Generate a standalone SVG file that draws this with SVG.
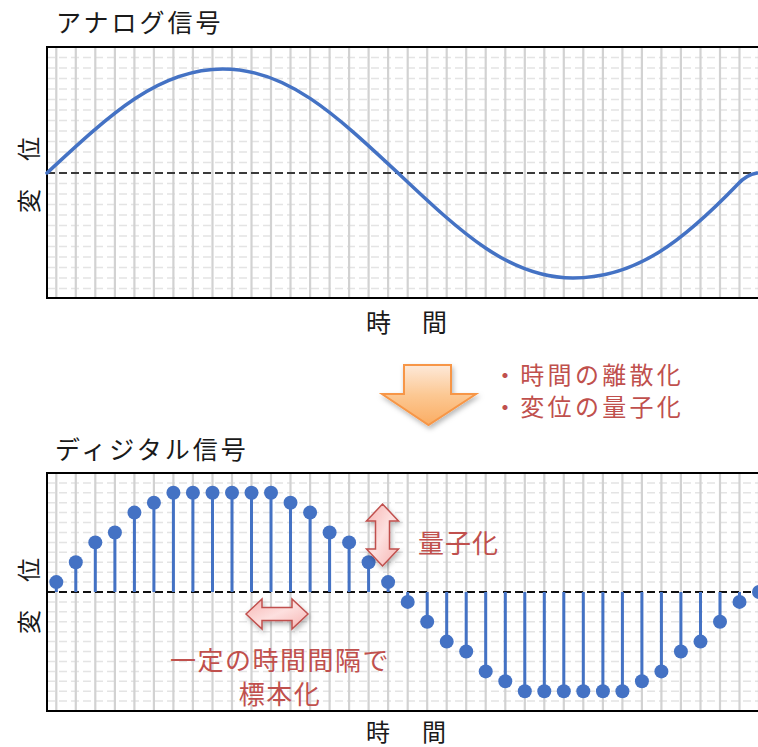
<svg xmlns="http://www.w3.org/2000/svg" width="758" height="747" viewBox="0 0 758 747">
<style>
.jp{font-family:"Noto Sans CJK JP","Noto Sans CJK SC",sans-serif;}
.blk{fill:#1a1a1a;}
.red{fill:#c0504d;}
.vg{stroke:#d2d2d2;stroke-width:2.2;fill:none;}
.hg{stroke:#e4e4e4;stroke-width:1.5;stroke-dasharray:8 4;fill:none;}
.frame{stroke:#000;stroke-width:2;fill:none;}
.zero{stroke:#3a3a3a;stroke-width:2.2;stroke-dasharray:8 4;fill:none;}
.stem{stroke:#4472c4;stroke-width:3;fill:none;}
.dot{fill:#4472c4;}
.rarrow{fill:url(#pinkGrad);stroke:#c0504d;stroke-width:1.5;stroke-linejoin:miter;}
</style>
<defs>
<linearGradient id="orangeGrad" x1="0" y1="0" x2="0" y2="1">
<stop offset="0" stop-color="#fde9d9"/>
<stop offset="0.5" stop-color="#fcc893"/>
<stop offset="1" stop-color="#fbad63"/>
</linearGradient>
<linearGradient id="pinkGrad" x1="0" y1="0" x2="1" y2="1">
<stop offset="0" stop-color="#f6b3b1"/>
<stop offset="0.5" stop-color="#fde0df"/>
<stop offset="1" stop-color="#f6b3b1"/>
</linearGradient>
<filter id="shadow" x="-20%" y="-20%" width="140%" height="150%">
<feDropShadow dx="1.5" dy="3" stdDeviation="2.5" flood-color="#000" flood-opacity="0.28"/>
</filter>
</defs>
<rect width="758" height="747" fill="#fff"/>

<g id="analog-chart">
<text class="jp blk" x="56" y="32" font-size="25" letter-spacing="3">アナログ信号</text>
<path class="hg" d="M47 162.5H758M47 152H758M47 141.5H758M47 131H758M47 120.5H758M47 110H758M47 99.5H758M47 89H758M47 78.5H758M47 68H758M47 57.5H758M47 183.5H758M47 194H758M47 204.5H758M47 215H758M47 225.5H758M47 236H758M47 246.5H758M47 257H758M47 267.5H758M47 278H758M47 288.5H758"/>
<path class="vg" d="M56.3 47V298M75.8 47V298M95.3 47V298M114.9 47V298M134.4 47V298M153.9 47V298M173.4 47V298M192.9 47V298M212.5 47V298M232 47V298M251.5 47V298M271 47V298M290.5 47V298M310.1 47V298M329.6 47V298M349.1 47V298M368.6 47V298M388.1 47V298M407.7 47V298M427.2 47V298M446.7 47V298M466.2 47V298M485.7 47V298M505.3 47V298M524.8 47V298M544.3 47V298M563.8 47V298M583.3 47V298M602.9 47V298M622.4 47V298M641.9 47V298M661.4 47V298M680.9 47V298M700.5 47V298M720 47V298M739.5 47V298M759 47V298"/>
<path class="zero" d="M47 173H758"/>
<path class="frame" d="M758 47H47V298H758"/>
<path d="M47 173C111.1 113.5 158.9 69 223 69C286.7 69 334.3 113.5 398 173C461.7 233.1 509.3 278 573 278C637 278 684 240 738 184Q746 175 757 173" fill="none" stroke="#4472c4" stroke-width="3.5" stroke-linecap="round"/>
<text class="jp blk" font-size="24" letter-spacing="2" text-anchor="middle" transform="translate(38,174) rotate(-90)">変　位</text>
<text class="jp blk" x="408" y="332" font-size="25" letter-spacing="3" text-anchor="middle">時　間</text>
</g>

<g id="transform-arrow">
<polygon points="404,365 451,365 451,394 476,394 428.5,425 382,394 404,394" fill="url(#orangeGrad)" stroke="#f79646" stroke-width="2" stroke-linejoin="miter" filter="url(#shadow)"/>
</g>

<g id="transform-notes">
<text class="jp red" x="493" y="384" font-size="24" letter-spacing="3.3">・時間の離散化</text>
<text class="jp red" x="493" y="416" font-size="24" letter-spacing="3.3">・変位の量子化</text>
</g>

<g id="digital-chart">
<text class="jp blk" x="55" y="459" font-size="25" letter-spacing="3">ディジタル信号</text>
<path class="hg" d="M47 582.1H758M47 572.2H758M47 562.2H758M47 552.3H758M47 542.4H758M47 532.5H758M47 522.6H758M47 512.6H758M47 502.7H758M47 492.8H758M47 482.9H758M47 601.9H758M47 611.8H758M47 621.8H758M47 631.7H758M47 641.6H758M47 651.5H758M47 661.4H758M47 671.4H758M47 681.3H758M47 691.2H758M47 701.1H758"/>
<path class="vg" d="M56.3 473V711M75.8 473V711M95.3 473V711M114.9 473V711M134.4 473V711M153.9 473V711M173.4 473V711M192.9 473V711M212.5 473V711M232 473V711M251.5 473V711M271 473V711M290.5 473V711M310.1 473V711M329.6 473V711M349.1 473V711M368.6 473V711M388.1 473V711M407.7 473V711M427.2 473V711M446.7 473V711M466.2 473V711M485.7 473V711M505.3 473V711M524.8 473V711M544.3 473V711M563.8 473V711M583.3 473V711M602.9 473V711M622.4 473V711M641.9 473V711M661.4 473V711M680.9 473V711M700.5 473V711M720 473V711M739.5 473V711M759 473V711"/>
<path class="zero" d="M47 592H758" style="stroke:#111"/>
<path class="frame" d="M758 473H47V711H758"/>
<path class="stem" d="M56.3 592V582.1M75.8 592V562.2M95.3 592V542.4M114.9 592V532.5M134.4 592V512.6M153.9 592V502.7M173.4 592V492.8M192.9 592V492.8M212.5 592V492.8M232 592V492.8M251.5 592V492.8M271 592V492.8M290.5 592V502.7M310.1 592V512.6M329.6 592V532.5M349.1 592V542.4M368.6 592V562.2M388.1 592V582.1M407.7 592V601.9M427.2 592V621.8M446.7 592V641.6M466.2 592V651.5M485.7 592V671.4M505.3 592V681.3M524.8 592V691.2M544.3 592V691.2M563.8 592V691.2M583.3 592V691.2M602.9 592V691.2M622.4 592V691.2M641.9 592V681.3M661.4 592V671.4M680.9 592V651.5M700.5 592V641.6M720 592V621.8M739.5 592V601.9"/>
<g class="dot">
<circle cx="56.3" cy="582.1" r="7"/><circle cx="75.8" cy="562.2" r="7"/><circle cx="95.3" cy="542.4" r="7"/><circle cx="114.9" cy="532.5" r="7"/><circle cx="134.4" cy="512.6" r="7"/><circle cx="153.9" cy="502.7" r="7"/><circle cx="173.4" cy="492.8" r="7"/><circle cx="192.9" cy="492.8" r="7"/><circle cx="212.5" cy="492.8" r="7"/><circle cx="232" cy="492.8" r="7"/><circle cx="251.5" cy="492.8" r="7"/><circle cx="271" cy="492.8" r="7"/><circle cx="290.5" cy="502.7" r="7"/><circle cx="310.1" cy="512.6" r="7"/><circle cx="329.6" cy="532.5" r="7"/><circle cx="349.1" cy="542.4" r="7"/><circle cx="368.6" cy="562.2" r="7"/><circle cx="388.1" cy="582.1" r="7"/><circle cx="407.7" cy="601.9" r="7"/><circle cx="427.2" cy="621.8" r="7"/><circle cx="446.7" cy="641.6" r="7"/><circle cx="466.2" cy="651.5" r="7"/><circle cx="485.7" cy="671.4" r="7"/><circle cx="505.3" cy="681.3" r="7"/><circle cx="524.8" cy="691.2" r="7"/><circle cx="544.3" cy="691.2" r="7"/><circle cx="563.8" cy="691.2" r="7"/><circle cx="583.3" cy="691.2" r="7"/><circle cx="602.9" cy="691.2" r="7"/><circle cx="622.4" cy="691.2" r="7"/><circle cx="641.9" cy="681.3" r="7"/><circle cx="661.4" cy="671.4" r="7"/><circle cx="680.9" cy="651.5" r="7"/><circle cx="700.5" cy="641.6" r="7"/><circle cx="720" cy="621.8" r="7"/><circle cx="739.5" cy="601.9" r="7"/><circle cx="759" cy="592" r="7"/>
</g>
<text class="jp blk" font-size="24" letter-spacing="2" text-anchor="middle" transform="translate(38,595) rotate(-90)">変　位</text>
<text class="jp blk" x="408" y="741" font-size="24" letter-spacing="4" text-anchor="middle">時　間</text>
</g>

<g id="quantization-note">
<polygon class="rarrow" filter="url(#shadow)" points="382.5,504 398.5,521 389.5,521 389.5,549 398.5,549 382.5,566 366.5,549 375.5,549 375.5,521 366.5,521"/>
<text class="jp red" x="418" y="553" font-size="26" letter-spacing="1">量子化</text>
</g>

<g id="sampling-note">
<polygon class="rarrow" filter="url(#shadow)" points="246,614 262,599 262,607.5 292,607.5 292,599 308,614 292,629 292,620.5 262,620.5 262,629"/>
<text class="jp red" x="280" y="670" font-size="26" letter-spacing="1.5" text-anchor="middle">一定の時間間隔で</text>
<text class="jp red" x="280" y="704" font-size="26" letter-spacing="1.5" text-anchor="middle">標本化</text>
</g>
</svg>
